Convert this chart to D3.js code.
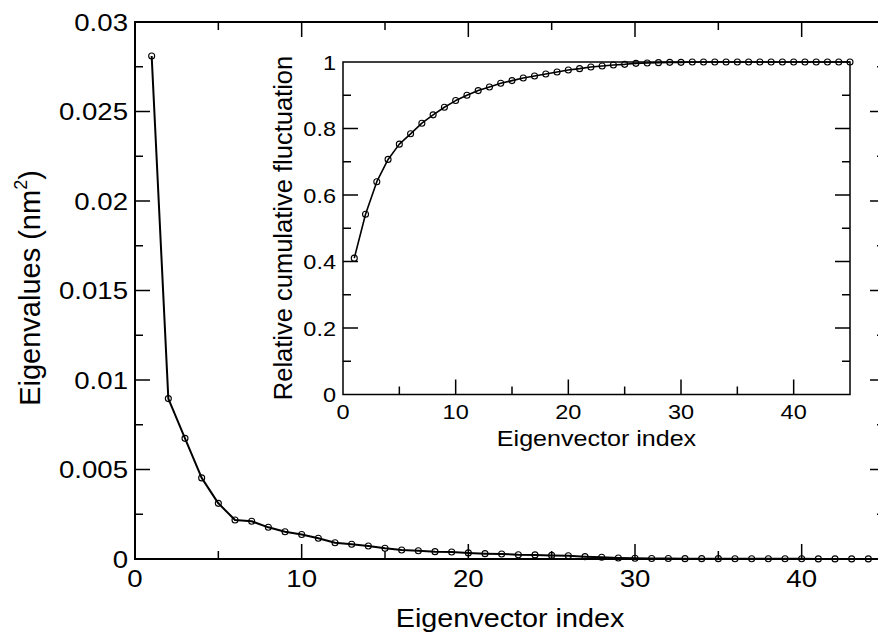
<!DOCTYPE html>
<html>
<head>
<meta charset="utf-8">
<script src="https://cdn.jsdelivr.net/npm/d3@7/dist/d3.min.js"></script>
<style>
  html, body { margin: 0; padding: 0; background: #fff; }
  svg { display: block; }
  text { font-family: "Liberation Sans", Arial, Helvetica, sans-serif; fill: #000; }
</style>
</head>
<body>
<svg id="chart" width="878" height="633"></svg>
<script>
// Eigenvalues of the covariance matrix, by eigenvector index (nm^2)
const eigenIndex = d3.range(1, 46);
const eigenvalues = [
  0.0281, 0.00896, 0.00674, 0.00453, 0.00311, 0.00218, 0.00211, 0.00177, 0.00152, 0.00137,
  0.00116, 0.00091, 0.00082, 0.00073, 0.00060, 0.00050, 0.00046, 0.00041, 0.00039, 0.00034,
  0.00030, 0.00028, 0.00024, 0.00023, 0.00020, 0.00018, 0.00013, 0.00010, 0.00006, 0.00004,
  0.00003, 0.00003, 0.00002, 0.00002, 0.00002, 0.00001, 0.00001, 0.00001, 0.00001, 0.00001,
  0.000005, 0.000005, 0.000005, 0.000005, 0.000005
];
// Relative cumulative fluctuation captured by the first n eigenvectors
const cumulative = [
  0.410, 0.542, 0.640, 0.707, 0.753, 0.784, 0.816, 0.841, 0.864, 0.884,
  0.900, 0.914, 0.925, 0.936, 0.944, 0.952, 0.958, 0.964, 0.970, 0.976,
  0.980, 0.985, 0.988, 0.991, 0.993, 0.996, 0.997, 0.998, 0.999, 0.999,
  1, 1, 1, 1, 1, 1, 1, 1, 1, 1, 1, 1, 1, 1, 1
];
const mainXTicks = [0, 10, 20, 30, 40];
const mainYTicks = [0, 0.005, 0.01, 0.015, 0.02, 0.025, 0.03];
const mainYLabels = ["0", "0.005", "0.01", "0.015", "0.02", "0.025", "0.03"];
const insetXTicks = [0, 10, 20, 30, 40];
const insetYTicks = [0, 0.2, 0.4, 0.6, 0.8, 1];
const insetYLabels = ["0", "0.2", "0.4", "0.6", "0.8", "1"];

const svg = d3.select("#chart");
const STRETCH = 1.15;

// Horizontal text, slightly widened like the rest of the figure
function hText(g, x, y, str, size, anchor, sx) {
  return g.append("text")
    .attr("transform", `translate(${x},${y}) scale(${sx},1)`)
    .attr("text-anchor", anchor)
    .attr("font-size", size)
    .text(str);
}

function drawFrame(g, x, y, box, opt) {
  const [x0, x1] = x.range();
  const [y0, y1] = y.range(); // y0 bottom, y1 top
  const major = 15, minor = 8;
  const tk = g.append("g").attr("stroke", "#000").attr("stroke-width", opt.tickWidth);
  const xMinor = d3.range(x.domain()[0], x.domain()[1] + 0.001, opt.xMinorStep);
  const yMinor = d3.range(y.domain()[0], y.domain()[1] + 1e-9, opt.yMinorStep);
  const isMajor = (v, step) => Math.abs(v / step - Math.round(v / step)) < 1e-6;
  xMinor.forEach(v => {
    const len = isMajor(v, opt.xMajorStep) ? major : minor;
    const px = x(v);
    if (px <= x0 + 0.5 || px >= x1 - 0.5) return;
    tk.append("line").attr("x1", px).attr("x2", px).attr("y1", y0).attr("y2", y0 - len);
    if (opt.topTicks) tk.append("line").attr("x1", px).attr("x2", px).attr("y1", y1).attr("y2", y1 + len);
  });
  yMinor.forEach(v => {
    const len = isMajor(v, opt.yMajorStep) ? major : minor;
    const py = y(v);
    if (py >= y0 - 0.5 || py <= y1 + 0.5) return;
    tk.append("line").attr("x1", x0).attr("x2", x0 + len).attr("y1", py).attr("y2", py);
    tk.append("line").attr("x1", x1).attr("x2", x1 - len).attr("y1", py).attr("y2", py);
  });
  g.append("rect")
    .attr("x", x0).attr("y", y1)
    .attr("width", x1 - x0).attr("height", y0 - y1)
    .attr("fill", "none").attr("stroke", "#000").attr("stroke-width", opt.frameWidth);
}

function drawSeries(g, x, y, xs, ys, lineWidth, r) {
  const pts = xs.map((d, i) => [d, ys[i]]);
  g.append("path")
    .attr("d", d3.line().x(d => x(d[0])).y(d => y(d[1]))(pts))
    .attr("fill", "none").attr("stroke", "#000").attr("stroke-width", lineWidth)
    .attr("stroke-linejoin", "round");
  g.append("g").selectAll("circle").data(pts).join("circle")
    .attr("cx", d => x(d[0])).attr("cy", d => y(d[1])).attr("r", r)
    .attr("fill", "none").attr("stroke", "#000").attr("stroke-width", 1.1);
}

// ---------- main panel ----------
const mx = d3.scaleLinear().domain([0, 45]).range([135, 885]);
const my = d3.scaleLinear().domain([0, 0.03]).range([559, 22]);
const main = svg.append("g");
drawSeries(main, mx, my, eigenIndex, eigenvalues, 2, 3);
drawFrame(main, mx, my, null, {
  xMinorStep: 5, xMajorStep: 10, yMinorStep: 0.0025, yMajorStep: 0.005,
  topTicks: true, tickWidth: 1.5, frameWidth: 2
});
mainYTicks.forEach((v, i) => {
  hText(main, 128, my(v), mainYLabels[i], 24, "end", STRETCH).attr("dy", "0.36em");
});
mainXTicks.forEach(v => {
  hText(main, mx(v), 587, String(v), 24, "middle", STRETCH);
});
hText(main, 510, 627, "Eigenvector index", 25, "middle", STRETCH);
const yTitle = main.append("text")
  .attr("transform", "translate(40,288) rotate(-90)")
  .attr("text-anchor", "middle")
  .attr("font-size", 29);
yTitle.append("tspan").text("Eigenvalues (nm");
yTitle.append("tspan").attr("font-size", 18).attr("dy", -13).text("2");
yTitle.append("tspan").attr("dy", 13).text(")");

// ---------- inset panel ----------
const ix = d3.scaleLinear().domain([0, 45]).range([343, 850]);
const iy = d3.scaleLinear().domain([0, 1]).range([394.5, 62]);
const inset = svg.append("g");
inset.append("rect").attr("x", 343).attr("y", 62).attr("width", 507).attr("height", 332.5).attr("fill", "#fff");
drawFrame(inset, ix, iy, null, {
  xMinorStep: 5, xMajorStep: 10, yMinorStep: 0.1, yMajorStep: 0.2,
  topTicks: false, tickWidth: 1.5, frameWidth: 1.5
});
drawSeries(inset, ix, iy, eigenIndex, cumulative, 1.6, 3);
insetYTicks.forEach((v, i) => {
  hText(inset, 336, iy(v), insetYLabels[i], 21, "end", 1.12).attr("dy", "0.36em");
});
insetXTicks.forEach(v => {
  hText(inset, ix(v), 419, String(v), 21, "middle", 1.12);
});
hText(inset, 596.5, 446, "Eigenvector index", 22, "middle", 1.14);
inset.append("text")
  .attr("transform", "translate(292,228) rotate(-90)")
  .attr("text-anchor", "middle")
  .attr("font-size", 25.5)
  .text("Relative cumulative fluctuation");
</script>
</body>
</html>
